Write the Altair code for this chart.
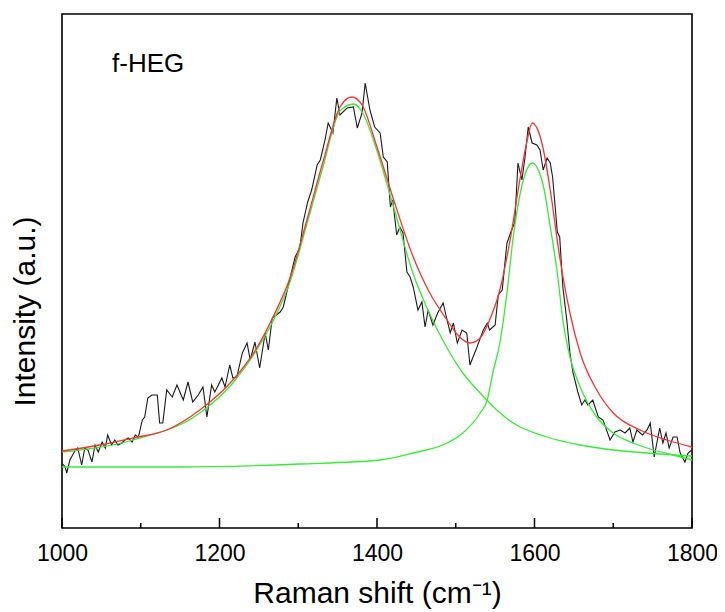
import altair as alt
import pandas as pd

# Experimental Raman spectrum (black)
exp_x = [1001, 1004, 1006, 1010, 1017, 1020, 1025, 1029, 1033, 1038, 1042,
         1046, 1051, 1055, 1058, 1063, 1067, 1071, 1076, 1080, 1084,
         1089, 1093, 1097, 1102, 1105, 1109, 1114, 1121, 1124, 1128,
         1133, 1140, 1146, 1154, 1160, 1166, 1173, 1179, 1184, 1190,
         1194, 1203, 1207, 1213, 1217, 1222, 1229, 1235, 1239, 1245,
         1251, 1258, 1262, 1267, 1277, 1281, 1287, 1296, 1302, 1306,
         1312, 1317, 1324, 1328, 1334, 1338, 1344, 1349, 1353, 1362,
         1370, 1375, 1381, 1385, 1391, 1397, 1404, 1408, 1413, 1417,
         1420, 1425, 1429, 1433, 1438, 1442, 1446, 1452, 1457, 1461,
         1465, 1471, 1477, 1484, 1489, 1493, 1497, 1502, 1508, 1514,
         1518, 1527, 1535, 1540, 1543, 1550, 1554, 1559, 1565, 1571,
         1575, 1579, 1584, 1588, 1592, 1597, 1603, 1607, 1611, 1616,
         1620, 1623, 1629, 1632, 1636, 1641, 1645, 1649, 1655, 1660,
         1664, 1668, 1674, 1681, 1687, 1696, 1702, 1709, 1715, 1721,
         1725, 1730, 1737, 1743, 1747, 1752, 1759, 1763, 1767, 1771,
         1776, 1781, 1785, 1791, 1795, 1800]
exp_y = [64, 61, 55, 68, 78, 80, 63, 80, 78, 66, 83,
         76, 86, 80, 93, 83, 88, 83, 85, 88, 90,
         86, 93, 91, 108, 111, 130, 133, 133, 105, 105,
         138, 131, 143, 128, 146, 126, 133, 141, 111, 143,
         136, 150, 141, 163, 150, 151, 175, 185, 168, 186,
         160, 195, 178, 210, 216, 221, 241, 271, 280, 305,
         326, 338, 363, 368, 388, 405, 395, 430, 413, 420,
         421, 400, 415, 445, 418, 401, 395, 371, 366, 321,
         328, 293, 301, 295, 256, 251, 241, 218, 226, 201,
         218, 203, 215, 225, 208, 195, 205, 185, 198, 195,
         163, 181, 198, 205, 198, 203, 233, 238, 285, 298,
         306, 365, 348, 371, 401, 385, 383, 378, 358, 370,
         365, 351, 296, 291, 241, 208, 175, 155, 136, 123,
         128, 123, 128, 111, 108, 88, 96, 98, 95, 100,
         86, 98, 93, 98, 105, 71, 100, 85, 95, 80,
         91, 91, 75, 66, 75, 78]

# Cumulative fit (red)
fit_x = [1000, 1048, 1090, 1133, 1175, 1217, 1248, 1268, 1290, 1311, 1331, 1353, 1368,
         1381, 1400, 1420, 1446, 1467, 1489, 1505, 1518, 1531, 1543, 1556, 1569, 1582,
         1590, 1597, 1610, 1620, 1632, 1645, 1658, 1679, 1700, 1734, 1768, 1800]
fit_y = [77, 83, 90, 98, 118, 148, 181, 211, 251, 308, 365, 421, 431,
         423, 381, 331, 271, 235, 208, 191, 185, 190, 208, 238, 288, 351,
         385, 405, 383, 338, 271, 215, 175, 138, 115, 98, 88, 81]

# D band component (green)
d_x = [1000, 1090, 1175, 1217, 1248, 1268, 1290, 1311, 1331, 1353, 1370, 1382, 1400,
       1420, 1446, 1467, 1489, 1509, 1531, 1552, 1573, 1616, 1658, 1700, 1743, 1800]
d_y = [76, 88, 115, 145, 179, 207, 247, 304, 360, 417, 424, 415, 377,
       324, 254, 214, 180, 155, 135, 118, 105, 91, 83, 78, 75, 72]

# G band component (green)
g_x = [1000, 1146, 1302, 1404, 1446, 1489, 1509, 1531, 1540, 1547, 1556, 1565, 1573,
       1582, 1590, 1597, 1611, 1620, 1629, 1636, 1645, 1658, 1679, 1700, 1725, 1751,
       1776, 1800]
g_y = [61, 61, 64, 68, 75, 85, 95, 115, 128, 155, 185, 235, 291,
       335, 358, 365, 343, 301, 255, 208, 171, 141, 111, 95, 85, 78,
       73, 68]

major_ticks = [1000, 1200, 1400, 1600, 1800]
minor_ticks = [1100, 1300, 1500, 1700]
sample_label = ["f-HEG"]

FONT = "Liberation Sans"
W, H = 630, 514

x_scale = alt.Scale(domain=[1000, 1800], nice=False, zero=False)
y_scale = alt.Scale(domain=[0, 514], nice=False, zero=False)

x_axis = alt.Axis(values=major_ticks, title="Raman shift (cm⁻¹)", format="d",
                  labelFontSize=23, titleFontSize=30, labelFont=FONT, titleFont=FONT,
                  labelColor="#000", titleColor="#000", titleFontWeight="normal",
                  ticks=False, tickSize=0, domain=False, grid=False,
                  labelPadding=32, labelBaseline="alphabetic",
                  titleBaseline="alphabetic", titleY=74, labelFlush=False)
y_axis = alt.Axis(title="Intensity (a.u.)", labels=False, ticks=False, domain=False,
                  grid=False, titleFontSize=30, titleFont=FONT, titleColor="#000",
                  titleFontWeight="normal", titleAngle=270, titleX=-37, titleY=297,
                  titleAlign="center", titleBaseline="middle")


def line(xs, ys, color, width, interp="linear"):
    df = pd.DataFrame({"x": xs, "y": ys})
    return alt.Chart(df).mark_line(color=color, strokeWidth=width, clip=True,
                                   interpolate=interp).encode(
        x=alt.X("x:Q", scale=x_scale, axis=x_axis),
        y=alt.Y("y:Q", scale=y_scale, axis=y_axis),
    )


exp_layer = line(exp_x, exp_y, "#1a1a1a", 1.1)
d_layer = line(d_x, d_y, "#33ee33", 1.3, "monotone")
g_layer = line(g_x, g_y, "#33ee33", 1.3, "monotone")
fit_layer = line(fit_x, fit_y, "#ff3030", 1.3, "monotone")

major_df = pd.DataFrame({"t": major_ticks})
minor_df = pd.DataFrame({"t": minor_ticks})
major_rules = alt.Chart(major_df).mark_rule(color="#000", strokeWidth=1.5).encode(
    x=alt.X("t:Q", scale=x_scale, axis=x_axis),
    y=alt.value(H), y2=alt.value(H - 10))
minor_rules = alt.Chart(minor_df).mark_rule(color="#000", strokeWidth=1.5).encode(
    x=alt.X("t:Q", scale=x_scale, axis=x_axis),
    y=alt.value(H), y2=alt.value(H - 5))

label = alt.Chart(pd.DataFrame({"label": sample_label})).mark_text(
    font=FONT, fontSize=26, color="#000", align="left", baseline="alphabetic"
).encode(text="label:N", x=alt.value(50), y=alt.value(58))

chart = alt.layer(exp_layer, d_layer, g_layer, fit_layer, major_rules, minor_rules, label).properties(
    width=W, height=H,
    padding={"left": 54, "top": 6, "right": 25, "bottom": 84},
    autosize=alt.AutoSizeParams(type="none"),
    background="white",
).configure_view(stroke="#000", strokeWidth=1.6)

chart.save("out.html", embed_options={"renderer": "svg", "actions": False})
